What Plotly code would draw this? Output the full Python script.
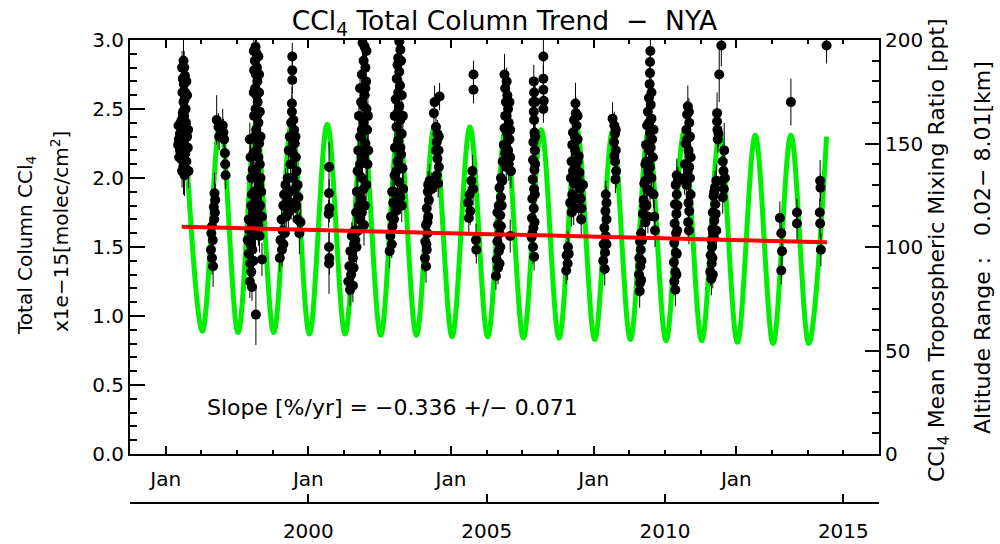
import plotly.graph_objects as go

# ---------------- data ----------------
# observations per season: (decimal year, total column x1e-15 molec/cm2, error)
obs_1996 = [
    (1996.50, 2.85, 0.15), (1996.52, 2.80, 0.12), (1996.54, 2.74, 0.12), (1996.51, 2.68, 0.10), (1996.55, 2.62, 0.12),
    (1996.53, 2.57, 0.10), (1996.56, 2.50, 0.12), (1996.52, 2.45, 0.10), (1996.57, 2.40, 0.15), (1996.55, 2.35, 0.12),
    (1996.60, 2.30, 0.12), (1996.40, 2.32, 0.10), (1996.37, 2.28, 0.12), (1996.44, 2.25, 0.10), (1996.40, 2.20, 0.12),
    (1996.47, 2.18, 0.15), (1996.43, 2.14, 0.12), (1996.62, 2.22, 0.15), (1996.58, 2.12, 0.12), (1996.50, 2.08, 0.20),
    (1996.64, 2.05, 0.12), (1996.36, 2.38, 0.10), (1996.48, 2.36, 0.10), (1996.60, 2.60, 0.12), (1996.58, 2.70, 0.10),
    (1996.46, 2.80, 0.12), (1996.48, 2.72, 0.10), (1996.47, 2.62, 0.12), (1996.50, 2.55, 0.10), (1996.49, 2.48, 0.12),
    (1996.45, 2.42, 0.10), (1996.52, 2.28, 0.12), (1996.38, 2.15, 0.12), (1996.55, 2.18, 0.10), (1996.42, 2.40, 0.12),
    (1996.63, 2.35, 0.10), (1996.35, 2.24, 0.12), (1996.53, 2.02, 0.15), (1996.46, 2.05, 0.12),
]
obs_1997 = [
    (1997.43, 2.42, 0.18), (1997.48, 2.37, 0.10), (1997.60, 2.38, 0.12), (1997.62, 2.33, 0.10), (1997.64, 2.28, 0.12),
    (1997.66, 2.18, 0.10), (1997.67, 2.10, 0.12), (1997.68, 2.02, 0.10), (1997.37, 1.89, 0.15), (1997.39, 1.84, 0.12),
    (1997.35, 1.79, 0.12), (1997.38, 1.75, 0.10), (1997.30, 1.65, 0.15), (1997.28, 1.60, 0.12), (1997.32, 1.55, 0.12),
    (1997.27, 1.48, 0.10), (1997.30, 1.42, 0.12), (1997.33, 1.36, 0.15), (1997.36, 1.70, 0.12), (1997.50, 2.30, 0.10),
]
obs_1998 = [
    (1998.52, 2.95, 0.12), (1998.55, 2.90, 0.12), (1998.50, 2.85, 0.10), (1998.56, 2.80, 0.12), (1998.53, 2.75, 0.10),
    (1998.57, 2.70, 0.12), (1998.51, 2.65, 0.10), (1998.55, 2.60, 0.12), (1998.58, 2.55, 0.10), (1998.52, 2.50, 0.12),
    (1998.56, 2.45, 0.10), (1998.60, 2.40, 0.12), (1998.54, 2.35, 0.10), (1998.58, 2.30, 0.12), (1998.62, 2.25, 0.15),
    (1998.55, 2.20, 0.12), (1998.60, 2.15, 0.10), (1998.64, 2.10, 0.12), (1998.50, 2.05, 0.15), (1998.57, 2.00, 0.20),
    (1998.62, 1.95, 0.12), (1998.48, 1.90, 0.15), (1998.55, 1.85, 0.20), (1998.65, 1.80, 0.12), (1998.45, 1.75, 0.15),
    (1998.52, 1.70, 0.20), (1998.60, 1.66, 0.15), (1998.40, 1.68, 0.12), (1998.35, 1.62, 0.12), (1998.45, 1.58, 0.15),
    (1998.38, 1.52, 0.12), (1998.33, 1.45, 0.12), (1998.37, 1.38, 0.15), (1998.40, 1.32, 0.12), (1998.36, 1.25, 0.12),
    (1998.42, 1.21, 0.10), (1998.62, 2.62, 0.10), (1998.64, 2.48, 0.12), (1998.66, 2.00, 0.12), (1998.68, 1.90, 0.10),
    (1998.70, 1.72, 0.12), (1998.70, 1.41, 0.12), (1998.53, 1.01, 0.22), (1998.36, 2.28, 0.12), (1998.38, 2.15, 0.10),
    (1998.40, 2.00, 0.12), (1998.47, 2.92, 0.12), (1998.48, 2.78, 0.10), (1998.47, 2.62, 0.12), (1998.48, 2.45, 0.10),
    (1998.50, 2.30, 0.12), (1998.46, 2.18, 0.12), (1998.44, 2.06, 0.10), (1998.42, 1.88, 0.15), (1998.40, 1.80, 0.12),
    (1998.49, 1.60, 0.15), (1998.43, 1.48, 0.12), (1998.46, 1.40, 0.12), (1998.58, 1.75, 0.15), (1998.63, 1.58, 0.12),
    (1998.60, 2.88, 0.10), (1998.62, 2.75, 0.12), (1998.66, 2.30, 0.10), (1998.33, 1.70, 0.12), (1998.30, 1.55, 0.12),
]
obs_1999 = [
    (1999.55, 2.88, 0.10), (1999.55, 2.78, 0.10), (1999.55, 2.71, 0.10), (1999.54, 2.54, 0.12), (1999.54, 2.48, 0.12),
    (1999.52, 2.40, 0.12), (1999.60, 2.35, 0.10), (1999.48, 2.30, 0.12), (1999.62, 2.25, 0.10), (1999.45, 2.20, 0.12),
    (1999.65, 2.15, 0.10), (1999.50, 2.10, 0.12), (1999.67, 2.05, 0.10), (1999.42, 2.00, 0.12), (1999.70, 1.95, 0.12),
    (1999.47, 1.90, 0.12), (1999.72, 1.86, 0.10), (1999.40, 1.85, 0.12), (1999.44, 1.75, 0.12), (1999.70, 1.70, 0.12),
    (1999.75, 1.60, 0.15), (1999.36, 1.95, 0.12), (1999.30, 1.80, 0.12), (1999.25, 1.70, 0.10), (1999.28, 1.62, 0.12),
    (1999.22, 1.55, 0.10), (1999.26, 1.48, 0.12), (1999.20, 1.42, 0.10), (1999.32, 1.88, 0.12),
    (1999.58, 2.42, 0.12), (1999.56, 2.18, 0.10), (1999.55, 2.00, 0.12), (1999.62, 1.92, 0.10), (1999.52, 1.82, 0.12),
    (1999.58, 1.78, 0.10), (1999.66, 1.80, 0.12), (1999.38, 1.72, 0.10), (1999.34, 1.60, 0.12), (1999.30, 1.52, 0.10),
    (1999.64, 2.30, 0.12), (1999.78, 1.68, 0.12),
]
obs_2000 = [
    (2000.58, 2.08, 0.18), (2000.58, 1.89, 0.10), (2000.59, 1.78, 0.10), (2000.57, 1.74, 0.10), (2000.58, 1.50, 0.12),
    (2000.59, 1.42, 0.12), (2000.58, 1.38, 0.22),
]
obs_2001 = [
    (2001.52, 2.98, 0.10), (2001.58, 2.95, 0.12), (2001.63, 2.92, 0.10), (2001.55, 2.85, 0.12), (2001.60, 2.80, 0.10),
    (2001.50, 2.75, 0.12), (2001.62, 2.70, 0.10), (2001.45, 2.65, 0.12), (2001.58, 2.60, 0.10), (2001.48, 2.55, 0.12),
    (2001.63, 2.50, 0.10), (2001.42, 2.45, 0.12), (2001.55, 2.40, 0.15), (2001.65, 2.35, 0.12), (2001.45, 2.30, 0.12),
    (2001.60, 2.25, 0.15), (2001.40, 2.20, 0.12), (2001.52, 2.15, 0.15), (2001.66, 2.10, 0.12), (2001.38, 2.05, 0.12),
    (2001.50, 2.00, 0.15), (2001.62, 1.95, 0.12), (2001.36, 1.90, 0.12), (2001.48, 1.85, 0.15), (2001.58, 1.80, 0.12),
    (2001.34, 1.75, 0.12), (2001.44, 1.70, 0.12), (2001.56, 1.66, 0.15), (2001.30, 1.62, 0.12), (2001.22, 1.58, 0.10),
    (2001.28, 1.52, 0.12), (2001.18, 1.47, 0.10), (2001.25, 1.42, 0.12), (2001.15, 1.36, 0.10), (2001.20, 1.30, 0.12),
    (2001.12, 1.25, 0.10), (2001.17, 1.19, 0.12), (2001.32, 1.55, 0.12),
    (2001.55, 2.52, 0.12), (2001.50, 2.35, 0.10), (2001.57, 2.20, 0.12), (2001.45, 2.10, 0.10), (2001.55, 1.92, 0.12),
    (2001.42, 1.80, 0.10), (2001.50, 1.75, 0.12), (2001.40, 1.62, 0.10), (2001.35, 1.50, 0.12), (2001.27, 1.35, 0.10),
    (2001.25, 1.22, 0.12), (2001.60, 2.65, 0.10), (2001.67, 2.45, 0.12), (2001.68, 2.20, 0.12),
]
obs_2002 = [
    (2002.55, 2.99, 0.10), (2002.58, 2.93, 0.12), (2002.52, 2.87, 0.10), (2002.50, 2.82, 0.12), (2002.55, 2.77, 0.10),
    (2002.48, 2.72, 0.12), (2002.57, 2.67, 0.10), (2002.52, 2.62, 0.12), (2002.45, 2.57, 0.10), (2002.55, 2.52, 0.12),
    (2002.50, 2.47, 0.10), (2002.58, 2.42, 0.12), (2002.47, 2.37, 0.10), (2002.62, 2.32, 0.12), (2002.52, 2.27, 0.10),
    (2002.43, 2.22, 0.12), (2002.60, 2.17, 0.12), (2002.50, 2.12, 0.10), (2002.64, 2.07, 0.12), (2002.42, 2.02, 0.12),
    (2002.55, 1.97, 0.10), (2002.66, 1.92, 0.12), (2002.40, 1.90, 0.12), (2002.50, 1.85, 0.10), (2002.62, 1.80, 0.12),
    (2002.45, 1.76, 0.12), (2002.38, 1.82, 0.10), (2002.32, 1.72, 0.12), (2002.36, 1.65, 0.10), (2002.30, 1.58, 0.12),
    (2002.34, 1.52, 0.10), (2002.28, 1.47, 0.12),
    (2002.60, 2.85, 0.10), (2002.62, 2.60, 0.12), (2002.42, 2.45, 0.10), (2002.58, 2.22, 0.12), (2002.47, 2.05, 0.10),
    (2002.58, 1.86, 0.12), (2002.35, 1.90, 0.10), (2002.40, 1.70, 0.12), (2002.65, 2.45, 0.10),
]
obs_2003 = [
    (2003.54, 2.55, 0.12), (2003.68, 2.59, 0.10), (2003.52, 2.47, 0.10), (2003.58, 2.37, 0.12), (2003.62, 2.32, 0.10),
    (2003.60, 2.26, 0.12), (2003.65, 2.20, 0.10), (2003.62, 2.14, 0.12), (2003.66, 2.08, 0.10), (2003.60, 2.02, 0.12),
    (2003.64, 1.96, 0.10), (2003.40, 1.98, 0.12), (2003.35, 1.90, 0.10), (2003.38, 1.84, 0.12), (2003.32, 1.78, 0.10),
    (2003.36, 1.72, 0.12), (2003.30, 1.66, 0.10), (2003.34, 1.60, 0.12), (2003.28, 1.54, 0.10), (2003.32, 1.48, 0.12),
    (2003.27, 1.42, 0.10), (2003.30, 1.36, 0.12), (2003.46, 1.92, 0.12),
    (2003.36, 1.95, 0.10), (2003.34, 1.68, 0.12), (2003.31, 1.52, 0.10), (2003.58, 2.20, 0.12), (2003.66, 2.30, 0.10),
]
obs_2004 = [
    (2004.63, 2.75, 0.10), (2004.63, 2.64, 0.10), (2004.60, 2.05, 0.12), (2004.57, 1.98, 0.10), (2004.62, 1.92, 0.12),
    (2004.52, 1.88, 0.10), (2004.48, 1.82, 0.12), (2004.54, 1.76, 0.10), (2004.50, 1.71, 0.12), (2004.70, 1.55, 0.12),
    (2004.71, 1.48, 0.10),
]
obs_2005 = [
    (2005.50, 2.75, 0.15), (2005.52, 2.65, 0.12), (2005.58, 2.60, 0.10), (2005.54, 2.55, 0.12), (2005.60, 2.50, 0.10),
    (2005.56, 2.45, 0.12), (2005.62, 2.40, 0.10), (2005.50, 2.36, 0.12), (2005.58, 2.32, 0.10), (2005.64, 2.28, 0.12),
    (2005.48, 2.24, 0.10), (2005.60, 2.20, 0.12), (2005.66, 2.15, 0.10), (2005.45, 2.12, 0.12), (2005.55, 2.08, 0.10),
    (2005.68, 2.05, 0.12), (2005.40, 2.00, 0.12), (2005.36, 1.93, 0.10), (2005.40, 1.86, 0.12), (2005.34, 1.80, 0.10),
    (2005.38, 1.73, 0.12), (2005.32, 1.66, 0.10), (2005.36, 1.60, 0.12), (2005.30, 1.54, 0.10), (2005.34, 1.47, 0.12),
    (2005.28, 1.41, 0.10), (2005.32, 1.35, 0.12), (2005.26, 1.29, 0.10), (2005.66, 1.58, 0.12),
    (2005.56, 2.70, 0.10), (2005.64, 2.55, 0.12), (2005.52, 2.45, 0.10), (2005.66, 2.35, 0.12), (2005.52, 2.18, 0.10),
    (2005.62, 2.10, 0.12), (2005.44, 1.98, 0.10), (2005.42, 1.80, 0.12), (2005.40, 1.65, 0.10), (2005.38, 1.50, 0.12),
    (2005.36, 1.38, 0.10), (2005.30, 1.75, 0.12),
]
obs_2006 = [
    (2006.59, 2.88, 0.15), (2006.59, 2.72, 0.10), (2006.59, 2.64, 0.10), (2006.60, 2.56, 0.10), (2006.59, 2.50, 0.10),
    (2006.32, 2.70, 0.12), (2006.33, 2.62, 0.10), (2006.31, 2.55, 0.10), (2006.32, 2.48, 0.12), (2006.33, 2.42, 0.10),
    (2006.34, 2.33, 0.12), (2006.31, 2.26, 0.10), (2006.35, 2.20, 0.12), (2006.30, 2.13, 0.10), (2006.34, 2.06, 0.12),
    (2006.29, 1.99, 0.10), (2006.33, 1.92, 0.12), (2006.28, 1.85, 0.10), (2006.32, 1.78, 0.12), (2006.27, 1.71, 0.10),
    (2006.31, 1.64, 0.12), (2006.26, 1.57, 0.10), (2006.30, 1.50, 0.12), (2006.33, 1.43, 0.10),
    (2006.36, 2.30, 0.10), (2006.36, 2.10, 0.12), (2006.35, 1.88, 0.10), (2006.34, 1.68, 0.12), (2006.28, 1.60, 0.10),
    (2006.36, 2.55, 0.12),
]
obs_2007 = [
    (2007.49, 2.54, 0.15), (2007.50, 2.47, 0.12), (2007.45, 2.42, 0.12), (2007.52, 2.38, 0.10), (2007.42, 2.33, 0.12),
    (2007.55, 2.28, 0.10), (2007.40, 2.24, 0.12), (2007.48, 2.20, 0.10), (2007.58, 2.16, 0.12), (2007.38, 2.12, 0.10),
    (2007.50, 2.08, 0.12), (2007.60, 2.04, 0.10), (2007.36, 2.00, 0.12), (2007.45, 1.96, 0.10), (2007.62, 1.92, 0.12),
    (2007.40, 1.88, 0.10), (2007.64, 1.85, 0.12), (2007.34, 1.82, 0.10), (2007.66, 1.78, 0.12), (2007.38, 1.75, 0.10),
    (2007.65, 1.70, 0.12), (2007.28, 1.50, 0.12), (2007.24, 1.44, 0.10), (2007.27, 1.38, 0.12), (2007.23, 1.33, 0.10),
    (2007.55, 2.45, 0.10), (2007.47, 2.30, 0.12), (2007.55, 2.12, 0.10), (2007.42, 2.05, 0.12), (2007.55, 1.98, 0.10),
    (2007.50, 1.85, 0.12), (2007.58, 1.78, 0.10), (2007.44, 1.78, 0.12), (2007.70, 1.95, 0.10), (2007.30, 1.45, 0.12),
]
obs_2008 = [
    (2008.53, 2.43, 0.12), (2008.58, 2.38, 0.10), (2008.60, 2.32, 0.12), (2008.57, 2.26, 0.10), (2008.62, 2.20, 0.12),
    (2008.60, 2.12, 0.10), (2008.63, 2.05, 0.12), (2008.61, 1.99, 0.10), (2008.36, 1.82, 0.12), (2008.33, 1.76, 0.10),
    (2008.36, 1.70, 0.12), (2008.30, 1.64, 0.10), (2008.34, 1.58, 0.12), (2008.28, 1.52, 0.10), (2008.32, 1.46, 0.12),
    (2008.27, 1.40, 0.10), (2008.31, 1.34, 0.12),
    (2008.34, 1.88, 0.10), (2008.36, 1.52, 0.12), (2008.62, 2.35, 0.10), (2008.58, 2.16, 0.12),
]
obs_2009 = [
    (2009.59, 2.92, 0.12), (2009.58, 2.84, 0.10), (2009.58, 2.76, 0.10), (2009.57, 2.68, 0.12), (2009.55, 2.58, 0.12),
    (2009.60, 2.53, 0.10), (2009.52, 2.48, 0.12), (2009.62, 2.43, 0.10), (2009.50, 2.38, 0.12), (2009.58, 2.33, 0.10),
    (2009.64, 2.28, 0.12), (2009.47, 2.24, 0.10), (2009.55, 2.20, 0.12), (2009.66, 2.15, 0.10), (2009.45, 2.10, 0.12),
    (2009.53, 2.05, 0.10), (2009.62, 2.00, 0.12), (2009.42, 1.96, 0.10), (2009.50, 1.92, 0.12), (2009.68, 1.88, 0.10),
    (2009.40, 1.84, 0.12), (2009.48, 1.80, 0.10), (2009.70, 1.72, 0.12), (2009.38, 1.74, 0.10), (2009.45, 1.68, 0.12),
    (2009.33, 1.60, 0.10), (2009.30, 1.54, 0.12), (2009.32, 1.48, 0.10), (2009.28, 1.42, 0.12), (2009.31, 1.36, 0.10),
    (2009.27, 1.30, 0.12), (2009.30, 1.24, 0.10), (2009.29, 1.18, 0.12), (2009.72, 1.62, 0.12),
    (2009.62, 2.62, 0.10), (2009.55, 2.40, 0.12), (2009.68, 2.35, 0.10), (2009.60, 2.22, 0.12), (2009.48, 2.12, 0.10),
    (2009.58, 2.08, 0.12), (2009.45, 1.98, 0.10), (2009.58, 1.90, 0.12), (2009.42, 1.80, 0.10), (2009.52, 1.72, 0.12),
    (2009.36, 1.55, 0.10), (2009.34, 1.40, 0.12), (2009.33, 1.26, 0.10),
]
obs_2010 = [
    (2010.64, 2.52, 0.15), (2010.62, 2.46, 0.10), (2010.68, 2.40, 0.12), (2010.60, 2.35, 0.10), (2010.70, 2.30, 0.12),
    (2010.58, 2.25, 0.10), (2010.66, 2.20, 0.12), (2010.72, 2.15, 0.10), (2010.56, 2.10, 0.12), (2010.64, 2.05, 0.10),
    (2010.70, 2.00, 0.12), (2010.60, 1.95, 0.10), (2010.66, 1.82, 0.12), (2010.68, 1.76, 0.10), (2010.65, 1.68, 0.12),
    (2010.67, 1.62, 0.10), (2010.33, 2.02, 0.12), (2010.30, 1.95, 0.10), (2010.33, 1.88, 0.12), (2010.28, 1.81, 0.10),
    (2010.32, 1.74, 0.12), (2010.27, 1.67, 0.10), (2010.31, 1.60, 0.12), (2010.26, 1.53, 0.10), (2010.30, 1.46, 0.12),
    (2010.25, 1.39, 0.10), (2010.29, 1.32, 0.12), (2010.26, 1.25, 0.10), (2010.29, 1.19, 0.12),
    (2010.67, 2.48, 0.10), (2010.62, 2.28, 0.12), (2010.68, 2.08, 0.10), (2010.55, 2.00, 0.12), (2010.36, 1.98, 0.10),
    (2010.35, 1.80, 0.12), (2010.34, 1.62, 0.10), (2010.33, 1.45, 0.12), (2010.32, 1.30, 0.10), (2010.72, 1.88, 0.12),
]
obs_2011 = [
    (2011.58, 2.96, 0.15), (2011.52, 2.75, 0.20), (2011.46, 2.47, 0.15), (2011.46, 2.41, 0.10), (2011.47, 2.35, 0.12),
    (2011.48, 2.28, 0.10), (2011.66, 2.20, 0.20), (2011.62, 2.12, 0.12), (2011.64, 2.05, 0.10), (2011.60, 1.98, 0.12),
    (2011.65, 1.92, 0.10), (2011.62, 1.86, 0.12), (2011.40, 1.93, 0.12), (2011.36, 1.87, 0.10), (2011.41, 1.81, 0.12),
    (2011.34, 1.75, 0.10), (2011.38, 1.69, 0.12), (2011.33, 1.63, 0.10), (2011.37, 1.57, 0.12), (2011.30, 1.55, 0.10),
    (2011.32, 1.50, 0.12), (2011.28, 1.44, 0.10), (2011.31, 1.38, 0.12), (2011.27, 1.32, 0.10), (2011.30, 1.27, 0.12),
    (2011.44, 1.98, 0.12),
    (2011.38, 1.90, 0.10), (2011.42, 1.74, 0.12), (2011.35, 1.60, 0.10), (2011.33, 1.42, 0.12), (2011.34, 1.30, 0.10),
    (2011.44, 1.62, 0.12), (2011.50, 2.32, 0.10), (2011.68, 2.00, 0.12),
]
obs_2013 = [
    (2013.22, 1.71, 0.12), (2013.26, 1.60, 0.10), (2013.28, 1.47, 0.10), (2013.26, 1.33, 0.10), (2013.53, 2.55, 0.17),
    (2013.70, 1.75, 0.10), (2013.70, 1.67, 0.12),
]
obs_2014 = [
    (2014.35, 1.98, 0.15), (2014.36, 1.93, 0.10), (2014.34, 1.75, 0.10), (2014.35, 1.67, 0.10), (2014.37, 1.48, 0.12),
    (2014.53, 2.96, 0.13),
]

# seasonal fit (green): summer maxima and winter minima
fit_peak_year = [1996.53, 1997.53, 1998.53, 1999.53, 2000.53, 2001.53, 2002.53, 2003.53, 2004.53, 2005.53,
                 2006.53, 2007.53, 2008.53, 2009.53, 2010.53, 2011.53, 2012.53, 2013.53, 2014.53]
fit_peak_val = [2.42, 2.41, 2.40, 2.40, 2.39, 2.38, 2.38, 2.37, 2.37, 2.36,
                2.35, 2.35, 2.34, 2.33, 2.33, 2.32, 2.31, 2.31, 2.30]
fit_trough_year = [1997.03, 1998.03, 1999.03, 2000.03, 2001.03, 2002.03, 2003.03, 2004.03, 2005.03,
                   2006.03, 2007.03, 2008.03, 2009.03, 2010.03, 2011.03, 2012.03, 2013.03, 2014.03]
fit_trough_val = [0.89, 0.88, 0.88, 0.87, 0.87, 0.86, 0.86, 0.85, 0.85,
                  0.84, 0.84, 0.83, 0.83, 0.82, 0.82, 0.81, 0.80, 0.80]

# linear trend (red)
trend_year = [1996.45, 2014.54]
trend_val = [1.647, 1.534]

# axis ticks
top_tick_year = [1996, 2000, 2004, 2008, 2012]
top_tick_text = ["Jan", "Jan", "Jan", "Jan", "Jan"]
bottom_tick_year = [2000, 2005, 2010, 2015]
bottom_tick_text = ["2000", "2005", "2010", "2015"]
left_ticks = [0.0, 0.5, 1.0, 1.5, 2.0, 2.5, 3.0]
right_ticks = [0, 50, 100, 150, 200]

# ---------------- build ----------------
seasons = [obs_1996, obs_1997, obs_1998, obs_1999, obs_2000, obs_2001, obs_2002, obs_2003, obs_2004,
           obs_2005, obs_2006, obs_2007, obs_2008, obs_2009, obs_2010, obs_2011, obs_2013, obs_2014]
obs_t, obs_v, obs_e = [], [], []
for s in seasons:
    for t, v, e in s:
        obs_t.append(t)
        obs_v.append(v)
        obs_e.append(e)

fit_t, fit_v = [], []
for i in range(len(fit_peak_year)):
    fit_t.append(fit_peak_year[i])
    fit_v.append(fit_peak_val[i])
    if i < len(fit_trough_year):
        fit_t.append(fit_trough_year[i])
        fit_v.append(fit_trough_val[i])

FONT = "DejaVu Sans"
fig = go.Figure()
fig.add_trace(go.Scatter(x=fit_t, y=fit_v, mode="lines",
                         line=dict(color="#00ee00", width=5, shape="spline", smoothing=1),
                         hoverinfo="skip", showlegend=False))
fig.add_trace(go.Scatter(x=obs_t, y=obs_v, mode="markers",
                         marker=dict(color="black", size=10, symbol="circle"),
                         error_y=dict(type="data", array=obs_e, color="black", thickness=1, width=0),
                         showlegend=False))
fig.add_trace(go.Scatter(x=trend_year, y=trend_val, mode="lines",
                         line=dict(color="#ff0000", width=4), showlegend=False))
# carriers for the secondary axes
fig.add_trace(go.Scatter(x=[None], y=[None], yaxis="y2", showlegend=False, hoverinfo="skip"))
fig.add_trace(go.Scatter(x=[None], y=[None], xaxis="x2", showlegend=False, hoverinfo="skip"))

axis_common = dict(showline=True, linecolor="black", linewidth=2, ticks="inside",
                   tickcolor="black", tickwidth=2, showgrid=False, zeroline=False, automargin=False,
                   tickfont=dict(family=FONT, size=20, color="black"))

fig.update_layout(
    width=1000, height=544, autosize=False,
    margin=dict(l=130, r=121, t=40, b=41, autoexpand=False),
    paper_bgcolor="white", plot_bgcolor="white",
    font=dict(family=FONT, size=20, color="black"),
    title=dict(text="CCl<sub>4</sub> Total Column Trend  \u2212  NYA", x=0.5, xref="paper", xanchor="center",
               y=1 - 21 / 544, yref="container", yanchor="middle",
               font=dict(family=FONT, size=26.5, color="black")),
    xaxis=dict(range=[1995, 2016], tickmode="array", tickvals=top_tick_year, ticktext=top_tick_text,
               ticklen=8, mirror="ticks", anchor="y", ticklabelstandoff=6,
               minor=dict(tickmode="linear", tick0=1995, dtick=1, ticks="inside", ticklen=4,
                          tickwidth=2, tickcolor="black"),
               **axis_common),
    xaxis2=dict(range=[1995, 2016], overlaying="x", anchor="free", position=0, side="bottom",
                tickmode="array", tickvals=bottom_tick_year, ticktext=bottom_tick_text,
                ticklen=8, ticklabelstandoff=10, **axis_common),
    yaxis=dict(range=[0, 3], domain=[49 / 463, 1], tickmode="array", tickvals=left_ticks,
               tickformat=".1f", ticklen=15, anchor="x",
               minor=dict(tickmode="linear", tick0=0, dtick=0.1, ticks="inside", ticklen=7,
                          tickwidth=2, tickcolor="black"),
               **axis_common),
    yaxis2=dict(range=[0, 200], overlaying="y", side="right", anchor="x", tickmode="array",
                tickvals=right_ticks, ticklen=14,
                minor=dict(tickmode="linear", tick0=0, dtick=10, ticks="inside", ticklen=7,
                           tickwidth=2, tickcolor="black"),
                **axis_common),
)


def px_to_paper_x(px):
    return (px - 130) / 749


def px_to_paper_y(py):
    return (503 - py) / 463


annots = [
    dict(text="Total Column CCl<sub>4</sub>", x=px_to_paper_x(26), y=px_to_paper_y(245), size=20),
    dict(text="x1e\u221215[molec/cm<sup>2</sup>]", x=px_to_paper_x(60), y=px_to_paper_y(232), size=20),
    dict(text="CCl<sub>4</sub> Mean Tropospheric Mixing Ratio [ppt]", x=px_to_paper_x(938),
         y=px_to_paper_y(250), size=22),
    dict(text="Altitude Range :   0.02\u2212 8.01[km]", x=px_to_paper_x(982), y=px_to_paper_y(248), size=22),
]
for a in annots:
    fig.add_annotation(text=a["text"], x=a["x"], y=a["y"], xref="paper", yref="paper",
                       textangle=-90, showarrow=False, xanchor="center", yanchor="middle",
                       font=dict(family=FONT, size=a["size"], color="black"))

fig.add_annotation(text="Slope [%/yr] = \u22120.336 +/\u2212 0.071", x=1997.10, y=0.34, xref="x", yref="y",
                   xanchor="left", yanchor="middle", showarrow=False,
                   font=dict(family=FONT, size=22, color="black"))

fig.write_html("out.html")
